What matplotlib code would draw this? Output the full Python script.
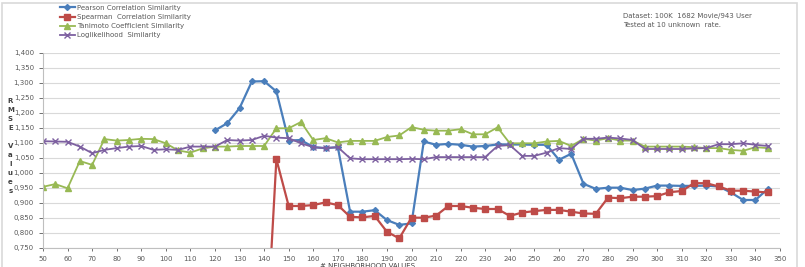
import numpy as np
import matplotlib
matplotlib.use("Agg")
import matplotlib.pyplot as plt
from matplotlib.patches import Rectangle
from matplotlib.ticker import FuncFormatter, MultipleLocator

neighborhood = list(range(50, 350, 5))
nan = np.nan

pearson = [nan]*14 + [1.142, 1.166, 1.216, 1.305, 1.306, 1.272, 1.108, 1.110, 1.086, 1.083,
           1.086, 0.871, 0.871, 0.876, 0.843, 0.827, 0.832, 1.105, 1.094, 1.097,
           1.094, 1.088, 1.090, 1.095, 1.095, 1.095, 1.094, 1.094, 1.044, 1.064,
           0.964, 0.947, 0.951, 0.951, 0.943, 0.948, 0.958, 0.958, 0.957, 0.957,
           0.958, 0.955, 0.935, 0.910, 0.910, 0.947]
spearman = [nan]*18 + [0.30, 1.046, 0.890, 0.890, 0.893, 0.902, 0.893, 0.854, 0.852, 0.857,
            0.804, 0.782, 0.851, 0.851, 0.858, 0.890, 0.890, 0.884, 0.880, 0.880,
            0.857, 0.868, 0.873, 0.877, 0.877, 0.871, 0.865, 0.864, 0.918, 0.916,
            0.921, 0.921, 0.923, 0.936, 0.940, 0.966, 0.966, 0.955, 0.941, 0.941,
            0.938, 0.935]
tanimoto = [0.954, 0.963, 0.949, 1.040, 1.027, 1.113, 1.108, 1.110, 1.114, 1.113,
            1.099, 1.075, 1.068, 1.082, 1.088, 1.088, 1.090, 1.090, 1.090, 1.149,
            1.149, 1.170, 1.110, 1.116, 1.102, 1.107, 1.107, 1.107, 1.120, 1.125,
            1.153, 1.144, 1.141, 1.141, 1.146, 1.129, 1.129, 1.152, 1.099, 1.099,
            1.099, 1.105, 1.107, 1.090, 1.114, 1.108, 1.116, 1.108, 1.108, 1.088,
            1.088, 1.088, 1.088, 1.086, 1.083, 1.083, 1.077, 1.074, 1.086, 1.083]
loglik = [1.106, 1.105, 1.104, 1.088, 1.066, 1.077, 1.083, 1.088, 1.090, 1.077,
          1.079, 1.077, 1.088, 1.088, 1.088, 1.110, 1.108, 1.110, 1.124, 1.118,
          1.116, 1.099, 1.086, 1.083, 1.086, 1.049, 1.046, 1.046, 1.046, 1.046,
          1.047, 1.046, 1.053, 1.053, 1.053, 1.053, 1.053, 1.090, 1.093, 1.057,
          1.057, 1.068, 1.083, 1.080, 1.114, 1.114, 1.118, 1.115, 1.110, 1.080,
          1.080, 1.080, 1.080, 1.082, 1.083, 1.096, 1.096, 1.099, 1.094, 1.090]

series_names = ["Pearson Correlation Similarity", "Spearman  Correlation Similarity",
                "Tanimoto Coefficient Similarity", "Loglikelihood  Similarity"]

fig = plt.figure(figsize=(8.05, 2.67), dpi=100)
fig.patches.append(Rectangle((0.003, -0.01), 0.987, 1.0, transform=fig.transFigure,
                             fill=False, edgecolor="#d9d9d9", lw=1.2))
ax = fig.add_axes([0.0534, 0.0712, 0.9156, 0.7303])

ax.plot(neighborhood, pearson, color="#4a7ebb", lw=1.6, marker="D", ms=3,
        label=series_names[0])
ax.plot(neighborhood, spearman, color="#be4b48", lw=1.6, marker="s", ms=4,
        label=series_names[1])
ax.plot(neighborhood, tanimoto, color="#98b954", lw=1.3, marker="^", ms=4,
        label=series_names[2])
ax.plot(neighborhood, loglik, color="#7d60a0", lw=1.3, marker="x", ms=4, mew=1,
        label=series_names[3])

ax.set_xlim(50, 350)
ax.set_ylim(0.75, 1.40)
ax.xaxis.set_major_locator(MultipleLocator(10))
ax.yaxis.set_major_locator(MultipleLocator(0.05))
ax.yaxis.set_major_formatter(FuncFormatter(lambda v, p: f"{v:.3f}".replace(".", ",")))
ax.grid(axis="y", color="#d9d9d9", lw=0.8)
ax.set_axisbelow(True)
for s in ["top", "right"]:
    ax.spines[s].set_visible(False)
for s in ["left", "bottom"]:
    ax.spines[s].set_color("#bfbfbf")
ax.tick_params(axis="both", labelsize=5, colors="#595959", length=2, width=0.6)
ax.tick_params(axis="y", length=3)

ax.set_xlabel("# NEIGHBORHOOD VALUES", fontsize=5, color="#404040", labelpad=0)
ax.xaxis.set_label_coords(0.44, -0.075)
fig.text(0.013, 0.455, "R\nM\nS\nE\n\nV\na\nl\nu\ne\ns", fontsize=5, color="#404040",
         ha="center", va="center", linespacing=1.6, fontweight="bold")

leg = fig.legend(loc="upper left", bbox_to_anchor=(0.068, 1.0), fontsize=5,
                 frameon=False, handlelength=2.2, handletextpad=0.3,
                 labelspacing=0.45, borderaxespad=0.3)
for t in leg.get_texts():
    t.set_color("#595959")

fig.text(0.774, 0.95, "Dataset: 100K  1682 Movie/943 User\nTested at 10 unknown  rate.",
         fontsize=5, color="#595959", va="top", ha="left", linespacing=1.5)

fig.savefig("out.png", dpi=100)
